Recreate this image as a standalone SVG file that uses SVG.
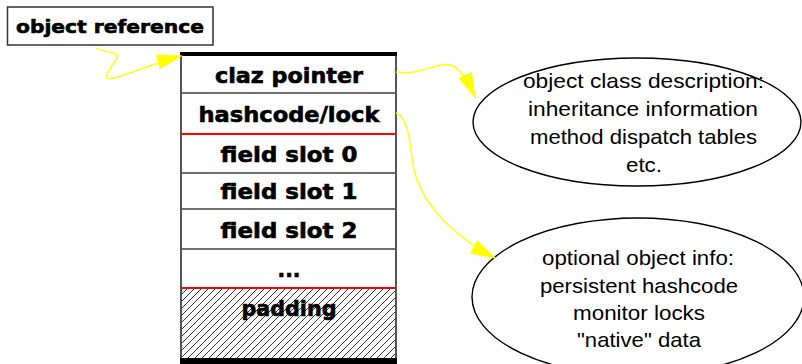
<svg xmlns="http://www.w3.org/2000/svg" width="802" height="364" viewBox="0 0 802 364">
<style>
.bold{font-family:"DejaVu Sans","Liberation Sans",sans-serif;font-weight:bold;fill:#000;stroke:#000;stroke-width:0.6;text-anchor:middle}
.norm{font-family:"Liberation Sans",Arial,sans-serif;font-size:21px;fill:#000;text-anchor:middle}
.sep{stroke:#404040;stroke-width:1.6}
.red{stroke:#ff0000;stroke-width:2.2}
.conn{fill:none;stroke:#ffff00;stroke-width:1.4}
.ell{fill:#fff;stroke:#000;stroke-width:1.4}
</style>
<defs>
<pattern id="hatch" patternUnits="userSpaceOnUse" width="7" height="7">
<path d="M0,7 L7,0 M-1,1 L1,-1 M6,8 L8,6" stroke="#000" stroke-width="0.8"/>
</pattern>
<marker id="arr" markerUnits="userSpaceOnUse" markerWidth="26" markerHeight="16" refX="24" refY="8" orient="auto">
<path d="M0,1 L24,8 L0,15 Z" fill="#ffff00" stroke="#ffff00" stroke-width="1"/>
</marker>
</defs>
<rect width="802" height="364" fill="#fff"/>

<g id="objref">
<rect x="7.5" y="7" width="205.5" height="38" fill="#fff" stroke="#333" stroke-width="1.5"/>
<text class="bold" x="110" y="33" font-size="18" textLength="188" lengthAdjust="spacingAndGlyphs">object reference</text>
</g>

<g id="object">
<rect x="181" y="288" width="215" height="70" fill="url(#hatch)"/>
<line class="sep" x1="181" y1="93" x2="396" y2="93"/>
<line class="red" x1="181" y1="134" x2="396" y2="134"/>
<line class="sep" x1="181" y1="173" x2="396" y2="173"/>
<line class="sep" x1="181" y1="209" x2="396" y2="209"/>
<line class="sep" x1="181" y1="249" x2="396" y2="249"/>
<line class="red" x1="181" y1="288" x2="396" y2="288"/>
<line x1="181" y1="52" x2="181" y2="364" stroke="#555" stroke-width="2"/>
<line x1="396" y1="52" x2="396" y2="364" stroke="#555" stroke-width="2"/>
<rect x="180" y="52" width="217" height="4" fill="#000"/>
<rect x="180" y="358" width="217" height="6" fill="#000"/>
<text class="bold" x="289" y="83" font-size="21" textLength="148" lengthAdjust="spacingAndGlyphs">claz pointer</text>
<text class="bold" x="289" y="122" font-size="21" textLength="181" lengthAdjust="spacingAndGlyphs">hashcode/lock</text>
<text class="bold" x="289" y="162" font-size="21" textLength="137" lengthAdjust="spacingAndGlyphs">field slot 0</text>
<text class="bold" x="289" y="199" font-size="21" textLength="137" lengthAdjust="spacingAndGlyphs">field slot 1</text>
<text class="bold" x="289" y="238" font-size="21" textLength="137" lengthAdjust="spacingAndGlyphs">field slot 2</text>
<text class="bold" x="289" y="277" font-size="21" textLength="23" lengthAdjust="spacingAndGlyphs">...</text>
<text class="bold" x="289" y="316" font-size="21" textLength="95" lengthAdjust="spacingAndGlyphs">padding</text>
</g>

<g id="classdesc">
<ellipse class="ell" cx="637" cy="122" rx="164" ry="64"/>
<text class="norm" x="643.5" y="88" textLength="241" lengthAdjust="spacingAndGlyphs">object class description:</text>
<text class="norm" x="643" y="116" textLength="230" lengthAdjust="spacingAndGlyphs">inheritance information</text>
<text class="norm" x="643.5" y="144" textLength="227" lengthAdjust="spacingAndGlyphs">method dispatch tables</text>
<text class="norm" x="644" y="172" textLength="36" lengthAdjust="spacingAndGlyphs">etc.</text>
</g>

<g id="objinfo">
<ellipse class="ell" cx="638" cy="297" rx="166" ry="79"/>
<text class="norm" x="638" y="265" textLength="192" lengthAdjust="spacingAndGlyphs">optional object info:</text>
<text class="norm" x="639" y="293" textLength="198" lengthAdjust="spacingAndGlyphs">persistent hashcode</text>
<text class="norm" x="639" y="320" textLength="132" lengthAdjust="spacingAndGlyphs">monitor locks</text>
<text class="norm" x="639" y="347" textLength="124" lengthAdjust="spacingAndGlyphs">"native" data</text>
</g>

<g id="connectors">
<path class="conn" d="M96,48 C102,52 115,52 117,55 C119,60 104,72 107,78 C112,82 150,64 181,56" marker-end="url(#arr)"/>
<path class="conn" d="M396,72 C420,76 435,62 450,65 C462,68 470,86 475,97" marker-end="url(#arr)"/>
<path class="conn" d="M396,113 C410,118 410,150 414,170 C425,215 470,245 495,258" marker-end="url(#arr)"/>
</g>
</svg>
